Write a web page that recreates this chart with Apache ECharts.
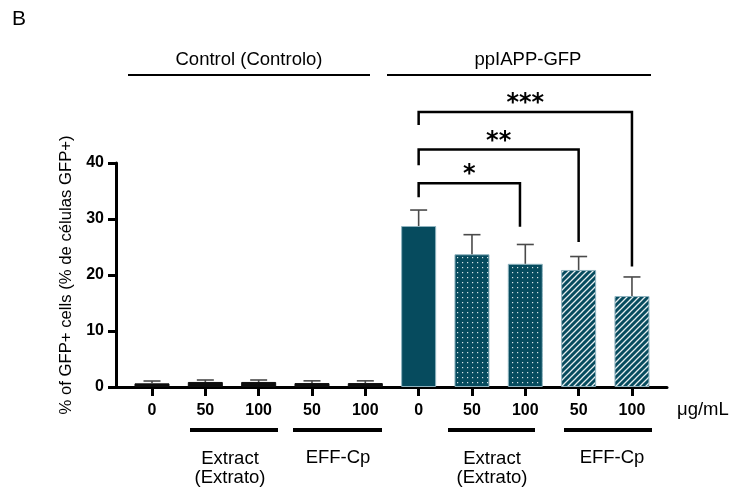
<!DOCTYPE html>
<html>
<head>
<meta charset="utf-8">
<script src="https://cdn.jsdelivr.net/npm/echarts@6.0.0/dist/echarts.min.js"></script>
<style>
  html, body { margin: 0; padding: 0; background: #fff; }
</style>
</head>
<body>
<div id="myChart1" style="width: 738px; height: 489px;"></div>
<script>
// doses shown under each bar (µg/mL)
const doseLabels = ['0', '50', '100', '50', '100', '0', '50', '100', '50', '100']
// % GFP+ cells, mean and error (SD)
const meanValues = [0.65, 0.9, 0.9, 0.7, 0.7, 28.75, 23.7, 22.0, 20.9, 16.25]
const errValues = [0.42, 0.35, 0.35, 0.4, 0.4, 2.85, 3.5, 3.45, 2.4, 3.4]
const yTicks = [0, 10, 20, 30, 40]
// significance vs ppIAPP-GFP 0
const sigFrom = [5, 5, 5]
const sigTo = [7, 8, 9]
const sigLabels = ['*', '**', '***']

const teal = '#064b5e'
const font = 'Liberation Sans, Arial, sans-serif'

function makeDots() {
  const c = document.createElement('canvas')
  c.width = 5
  c.height = 5
  const g = c.getContext('2d')
  g.fillStyle = teal
  g.fillRect(0, 0, 5, 5)
  g.fillStyle = 'rgba(255,255,255,0.85)'
  g.fillRect(2, 2, 1.2, 1.2)
  return c
}
function makeHatch() {
  const c = document.createElement('canvas')
  c.width = 6
  c.height = 6
  const g = c.getContext('2d')
  g.fillStyle = teal
  g.fillRect(0, 0, 6, 6)
  g.strokeStyle = 'rgba(255,255,255,0.9)'
  g.lineWidth = 1.3
  g.beginPath()
  g.moveTo(-1, 7); g.lineTo(7, -1)
  g.moveTo(-1, 1); g.lineTo(1, -1)
  g.moveTo(5, 7); g.lineTo(7, 5)
  g.stroke()
  return c
}
const dotFill = { image: makeDots(), repeat: 'repeat' }
const hatchFill = { image: makeHatch(), repeat: 'repeat' }

function barFill(i) {
  if (i < 5) return '#0d0d0d'
  if (i === 5) return teal
  if (i < 8) return dotFill
  return hatchFill
}

// bracket layout (value units): top, left leg end, right leg end
const bracketTop = [36.4, 42.4, 49.1]
const bracketLeftEnd = [33.9, 39.6, 46.8]
const bracketRightEnd = [28.6, 25.9, 21.5]

const myChart1 = echarts.init(document.getElementById('myChart1'))

const labelText = { fontFamily: font, fontSize: 18.5, fill: '#000' }

myChart1.setOption({
  backgroundColor: '#fff',
  animation: false,
  grid: { left: 116, right: 71, top: 163, bottom: 102 },
  xAxis: {
    type: 'value',
    min: -0.675,
    max: 9.657,
    splitLine: { show: false },
    axisLine: { show: true, onZero: false, lineStyle: { color: '#000', width: 3 } },
    axisTick: {
      show: true,
      customValues: doseLabels.map((d, i) => i),
      length: 9,
      lineStyle: { color: '#000', width: 3 }
    },
    axisLabel: {
      customValues: doseLabels.map((d, i) => i),
      formatter: v => doseLabels[Math.round(v)],
      margin: 16,
      color: '#000',
      fontFamily: font,
      fontWeight: 'bold',
      fontSize: 16
    }
  },
  yAxis: {
    type: 'value',
    min: yTicks[0],
    max: yTicks[yTicks.length - 1],
    interval: 10,
    name: '% of GFP+ cells (% de células GFP+)',
    nameLocation: 'middle',
    nameGap: 41,
    nameTextStyle: { color: '#000', fontFamily: font, fontSize: 16.7 },
    splitLine: { show: false },
    axisLine: { show: true, onZero: false, lineStyle: { color: '#000', width: 3 } },
    axisTick: { show: true, length: 8, lineStyle: { color: '#000', width: 3 } },
    axisLabel: {
      margin: 12,
      color: '#000',
      fontFamily: font,
      fontWeight: 'bold',
      fontSize: 16
    }
  },
  series: [
    {
      type: 'bar',
      barWidth: 35,
      data: meanValues.map((m, i) => ({
        value: [i, m],
        itemStyle: {
          color: barFill(i),
          borderColor: i < 5 ? '#0d0d0d' : '#8fb3bf',
          borderWidth: 1
        }
      }))
    },
    {
      // error bars (upper only)
      type: 'custom',
      z: 3,
      data: meanValues.map((m, i) => [i, m, errValues[i]]),
      renderItem(params, api) {
        const p0 = api.coord([api.value(0), api.value(1)])
        const p1 = api.coord([api.value(0), api.value(1) + api.value(2)])
        const st = { stroke: '#4a4a4a', lineWidth: 1.6 }
        return {
          type: 'group',
          children: [
            { type: 'line', shape: { x1: p0[0], y1: p0[1], x2: p1[0], y2: p1[1] }, style: st },
            { type: 'line', shape: { x1: p1[0] - 8.5, y1: p1[1], x2: p1[0] + 8.5, y2: p1[1] }, style: st }
          ]
        }
      }
    },
    {
      // significance brackets
      type: 'custom',
      z: 4,
      data: sigFrom.map((f, k) => [f, sigTo[k], k]),
      renderItem(params, api) {
        const k = api.value(2)
        const x1 = api.value(0)
        const x2 = api.value(1) - (k === 0 ? 0.1 : 0)
        const a = api.coord([x1, bracketLeftEnd[k]])
        const b = api.coord([x1, bracketTop[k]])
        const c = api.coord([x2, bracketTop[k]])
        const d = api.coord([x2, bracketRightEnd[k]])
        return {
          type: 'group',
          children: [
            {
              type: 'polyline',
              shape: { points: [a, b, c, d] },
              style: { stroke: '#000', lineWidth: 2.5, fill: null }
            },
            {
              type: 'text',
              style: {
                x: (b[0] + c[0]) / 2,
                y: b[1] + 4,
                text: sigLabels[k],
                textAlign: 'center',
                textVerticalAlign: 'bottom',
                fontFamily: 'DejaVu Sans, sans-serif',
                fontWeight: 'bold',
                fontSize: 24,
                fill: '#000'
              }
            }
          ]
        }
      }
    }
  ],
  graphic: [
    { type: 'text', left: 12, top: 9, style: { text: 'B', fontFamily: font, fontSize: 21, fill: '#000' } },
    { type: 'text', style: Object.assign({ x: 249, y: 60, text: 'Control (Controlo)', textAlign: 'center', textVerticalAlign: 'middle' }, labelText) },
    { type: 'line', shape: { x1: 128, y1: 75, x2: 370, y2: 75 }, style: { stroke: '#000', lineWidth: 2 } },
    { type: 'text', style: Object.assign({ x: 528, y: 60, text: 'ppIAPP-GFP', textAlign: 'center', textVerticalAlign: 'middle' }, labelText) },
    { type: 'line', shape: { x1: 387, y1: 75, x2: 651, y2: 75 }, style: { stroke: '#000', lineWidth: 2 } },
    { type: 'text', style: Object.assign({ x: 677, y: 410, text: 'μg/mL', textVerticalAlign: 'middle' }, labelText) },
    { type: 'line', shape: { x1: 190, y1: 430, x2: 278, y2: 430 }, style: { stroke: '#000', lineWidth: 4 } },
    { type: 'line', shape: { x1: 293, y1: 430, x2: 382, y2: 430 }, style: { stroke: '#000', lineWidth: 4 } },
    { type: 'line', shape: { x1: 448, y1: 430, x2: 535, y2: 430 }, style: { stroke: '#000', lineWidth: 4 } },
    { type: 'line', shape: { x1: 564, y1: 430, x2: 652, y2: 430 }, style: { stroke: '#000', lineWidth: 4 } },
    { type: 'text', style: Object.assign({ x: 230, y: 468, text: 'Extract\n(Extrato)', textAlign: 'center', textVerticalAlign: 'middle', lineHeight: 19 }, labelText) },
    { type: 'text', style: Object.assign({ x: 338, y: 458, text: 'EFF-Cp', textAlign: 'center', textVerticalAlign: 'middle' }, labelText) },
    { type: 'text', style: Object.assign({ x: 492, y: 468, text: 'Extract\n(Extrato)', textAlign: 'center', textVerticalAlign: 'middle', lineHeight: 19 }, labelText) },
    { type: 'text', style: Object.assign({ x: 612, y: 458, text: 'EFF-Cp', textAlign: 'center', textVerticalAlign: 'middle' }, labelText) }
  ]
})
</script>
</body>
</html>
